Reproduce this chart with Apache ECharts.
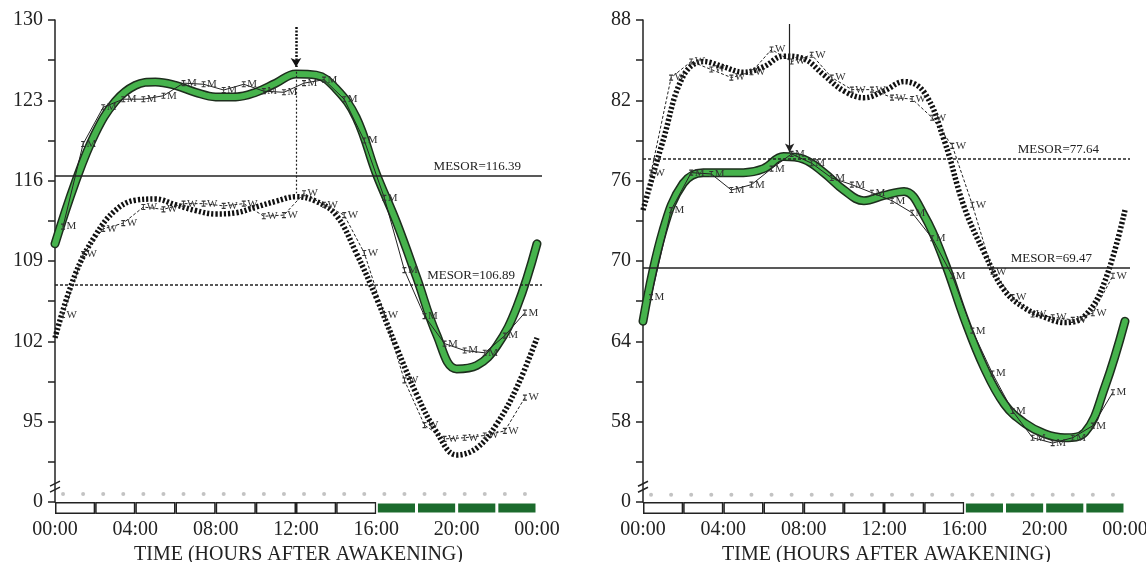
<!DOCTYPE html>
<html>
<head>
<meta charset="utf-8">
<script src="https://cdn.jsdelivr.net/npm/echarts@6.0.0/dist/echarts.min.js"></script>
<style>
  html, body { margin: 0; padding: 0; background: #fff; }
  #chart { width: 1146px; height: 562px; }
</style>
</head>
<body>
<div id="chart"></div>
<script>
// hours for the fitted curves and for the sampled means
const fitHours = [0, 1, 2, 3, 4, 5, 6, 7, 8, 9, 10, 11, 12, 13, 14, 15, 16, 17, 18, 19, 20, 21, 22, 23, 24]
const sampleHours = [0.4, 1.4, 2.4, 3.4, 4.4, 5.4, 6.4, 7.4, 8.4, 9.4, 10.4, 11.4,
  12.4, 13.4, 14.4, 15.4, 16.4, 17.4, 18.4, 19.4, 20.4, 21.4, 22.4, 23.4]

// left panel (M = men, W = women)
const leftMFit = [110.5, 115.8, 120.1, 122.9, 124.3, 124.6, 124.3, 123.7, 123.3, 123.3, 123.7, 124.5, 125.3,
  125.2, 124.0, 121.5, 116.6, 112.4, 107.6, 102.6, 99.6, 99.9, 101.6, 105.0, 110.5]
const leftWFit = [102.3, 107.8, 111.2, 113.4, 114.3, 114.4, 113.9, 113.4, 113.1, 113.2, 113.7, 114.2, 114.6,
  114.2, 113.0, 109.7, 105.8, 101.5, 97.4, 94.1, 92.1, 92.7, 94.8, 98.0, 102.3]
const leftMData = [112.0, 119.2, 122.4, 123.1, 123.1, 123.4, 124.5, 124.4, 123.9, 124.4, 123.8, 123.7,
  124.5, 124.8, 123.1, 119.5, 114.5, 108.2, 104.2, 101.8, 101.2, 101.0, 102.5, 104.5]
const leftWData = [104.3, 109.6, 111.8, 112.3, 113.7, 113.5, 114.0, 114.0, 113.8, 114.0, 112.9, 113.0,
  114.9, 113.9, 113.0, 109.7, 104.3, 98.6, 94.7, 93.5, 93.6, 93.8, 94.2, 97.1]
const leftMesorM = 116.39
const leftMesorW = 106.89
const leftAcrophase = 12.0
const leftYLabels = [88, 95, 102, 109, 116, 123, 130]
const leftYTicks = [88, 91.5, 95, 98.5, 102, 105.5, 109, 112.5, 116, 119.5, 123, 126.5, 130]

// right panel
const rightMFit = [65.5, 72.3, 75.8, 76.6, 76.6, 76.6, 76.9, 77.8, 77.6, 76.6, 75.3, 74.5, 74.9,
  75.2, 73.4, 70.0, 65.7, 62.0, 59.3, 57.9, 57.1, 56.8, 57.2, 60.6, 65.5]
const rightWFit = [73.8, 79.0, 83.8, 84.9, 84.5, 84.1, 84.5, 85.3, 85.1, 83.9, 82.7, 82.2, 82.7,
  83.4, 82.6, 79.0, 74.0, 70.6, 67.8, 66.5, 65.8, 65.4, 65.9, 68.5, 73.8]
const rightMData = [67.3, 73.8, 76.6, 76.5, 75.3, 75.7, 76.9, 78.0, 77.3, 76.2, 75.7, 75.1,
  74.5, 73.6, 71.7, 68.9, 64.8, 61.6, 58.8, 56.8, 56.4, 56.8, 57.7, 60.2]
const rightWData = [76.6, 83.7, 84.9, 84.3, 83.7, 84.1, 85.8, 84.9, 85.4, 83.7, 82.8, 82.8,
  82.2, 82.1, 80.7, 78.6, 74.2, 69.2, 67.3, 66.0, 65.8, 65.6, 66.1, 68.9]
const rightMesorW = 77.64
const rightMesorM = 69.47
const rightAcrophase = 7.3
const rightYLabels = [52, 58, 64, 70, 76, 82, 88]
const rightYTicks = [52, 55, 58, 61, 64, 67, 70, 73, 76, 79, 82, 85, 88]

const xLabels = [0, 4, 8, 12, 16, 20, 24]
// light / dark schedule, one block per 2 hours
const lightDark = ['L', 'L', 'L', 'L', 'L', 'L', 'L', 'L', 'D', 'D', 'D', 'D']

const FONT = 'Liberation Serif'
const GREEN = '#46b34c'
const DARK = '#1c6b2d'

const chart = echarts.init(document.getElementById('chart'))

const pairs = (xs, ys) => xs.map((x, i) => [x, ys[i]])
const hhmm = v => String(v % 24).padStart(2, '0') + ':00'

function xAxisFor (grid) {
  return {
    type: 'value',
    gridIndex: grid,
    min: 0,
    max: 24.25,
    axisLine: { show: false },
    axisTick: { show: false },
    splitLine: { show: false },
    axisLabel: {
      customValues: xLabels,
      formatter: hhmm,
      fontFamily: FONT,
      fontSize: 20,
      color: '#222',
      margin: 18
    },
    name: 'TIME (HOURS AFTER AWAKENING)',
    nameLocation: 'middle',
    nameGap: 35,
    nameTextStyle: { fontFamily: FONT, fontSize: 20, color: '#222' }
  }
}

function yAxisFor (grid, min, max, labels, ticks) {
  return {
    type: 'value',
    gridIndex: grid,
    min: min,
    max: max,
    axisLine: { show: true, lineStyle: { color: '#222', width: 1.5 } },
    axisTick: { show: true, customValues: ticks, length: 7, lineStyle: { color: '#222', width: 1.5 } },
    splitLine: { show: false },
    axisLabel: {
      customValues: labels,
      formatter: v => (v === min ? '0' : String(v)),
      fontFamily: FONT,
      fontSize: 20,
      color: '#222',
      margin: 12
    }
  }
}

function fitSeries (idx, hours, values, kind) {
  if (kind === 'M') {
    return [
      {
        type: 'line', xAxisIndex: idx, yAxisIndex: idx, data: pairs(hours, values), smooth: 0.4,
        symbol: 'none', silent: true, z: 3,
        lineStyle: { color: '#1d2e1d', width: 9, cap: 'round' }
      },
      {
        type: 'line', xAxisIndex: idx, yAxisIndex: idx, data: pairs(hours, values), smooth: 0.4,
        symbol: 'none', silent: true, z: 4,
        lineStyle: { color: GREEN, width: 6, cap: 'round' }
      }
    ]
  }
  return [{
    type: 'line', xAxisIndex: idx, yAxisIndex: idx, data: pairs(hours, values), smooth: 0.4,
    symbol: 'none', silent: true, z: 3,
    lineStyle: { color: '#111', width: 5.5, type: [2.2, 2] }
  }]
}

function dataSeries (idx, values, letter) {
  return {
    type: 'line', xAxisIndex: idx, yAxisIndex: idx, data: pairs(sampleHours, values),
    symbol: 'path://M0,0H6M3,0V8M0,8H6', symbolSize: [4, 5], z: 6,
    itemStyle: { color: '#333', borderColor: '#333', borderWidth: 1 },
    lineStyle: { color: '#222', width: 1, type: letter === 'W' ? [3, 2] : 'solid' },
    label: {
      show: true, formatter: letter, position: 'right', distance: 1,
      fontFamily: FONT, fontSize: 11, color: '#333'
    }
  }
}

function mesorLine (value, solid, pad) {
  return [
    {
      coord: [0, value],
      lineStyle: { color: '#222', width: 1.5, type: solid ? 'solid' : [3, 2] },
      label: {
        show: true, position: 'insideEndTop', formatter: 'MESOR=' + value.toFixed(2),
        fontFamily: FONT, fontSize: 13, color: '#222', distance: 3, padding: [0, pad, 0, 0]
      }
    },
    { coord: [24.25, value] }
  ]
}

function markerSeries (idx, lines) {
  return {
    type: 'line', xAxisIndex: idx, yAxisIndex: idx, data: [], z: 5,
    markLine: { silent: true, symbol: ['none', 'none'], animation: false, data: lines }
  }
}

function dotSeries (idx, level) {
  return {
    type: 'scatter', xAxisIndex: idx, yAxisIndex: idx, silent: true,
    data: sampleHours.map(h => [h, level]), symbolSize: 4,
    itemStyle: { color: '#b4b4b4' }
  }
}

function scheduleSeries (idx) {
  return {
    type: 'bar', xAxisIndex: idx, yAxisIndex: idx, silent: true, barWidth: '100%',
    data: lightDark.map(b => ({
      value: 1,
      itemStyle: b === 'L'
        ? { color: '#fff', borderColor: '#222', borderWidth: 1.5 }
        : { color: DARK, borderColor: '#fff', borderWidth: 1.5 }
    }))
  }
}

const option = {
  backgroundColor: '#fff',
  animation: false,
  grid: [
    { left: 55, right: 604, top: 20, bottom: 60, outerBoundsMode: 'none' },
    { left: 643, right: 16, top: 20, bottom: 60, outerBoundsMode: 'none' },
    { left: 55, right: 609, top: 502, height: 12, outerBoundsMode: 'none' },
    { left: 643, right: 21, top: 502, height: 12, outerBoundsMode: 'none' }
  ],
  xAxis: [
    xAxisFor(0),
    xAxisFor(1),
    { type: 'category', gridIndex: 2, data: lightDark.map((b, i) => i), show: false },
    { type: 'category', gridIndex: 3, data: lightDark.map((b, i) => i), show: false }
  ],
  yAxis: [
    yAxisFor(0, 88, 130, leftYLabels, leftYTicks),
    yAxisFor(1, 52, 88, rightYLabels, rightYTicks),
    { type: 'value', gridIndex: 2, min: 0, max: 1, show: false },
    { type: 'value', gridIndex: 3, min: 0, max: 1, show: false }
  ],
  series: [
    ...fitSeries(0, fitHours, leftWFit, 'W'),
    ...fitSeries(0, fitHours, leftMFit, 'M'),
    dataSeries(0, leftMData, 'M'),
    dataSeries(0, leftWData, 'W'),
    markerSeries(0, [
      mesorLine(leftMesorM, true, 18),
      mesorLine(leftMesorW, false, 24),
      [
        { coord: [leftAcrophase, 129.4], symbol: 'none', lineStyle: { color: '#111', width: 2.5, type: [2, 1.5] } },
        { coord: [leftAcrophase, 125.9], symbol: 'arrow', symbolSize: [8, 9] }
      ],
      [
        { coord: [leftAcrophase, 125.5], lineStyle: { color: '#222', width: 1.2, type: [2, 2] } },
        { coord: [leftAcrophase, 114.9] }
      ]
    ]),
    dotSeries(0, 88.7),

    ...fitSeries(1, fitHours, rightWFit, 'W'),
    ...fitSeries(1, fitHours, rightMFit, 'M'),
    dataSeries(1, rightMData, 'M'),
    dataSeries(1, rightWData, 'W'),
    markerSeries(1, [
      mesorLine(rightMesorW, false, 28),
      mesorLine(rightMesorM, true, 35),
      [
        { coord: [rightAcrophase, 87.7], symbol: 'none', lineStyle: { color: '#222', width: 1.2, type: 'solid' } },
        { coord: [rightAcrophase, 78.1], symbol: 'arrow', symbolSize: [7, 9] }
      ]
    ]),
    dotSeries(1, 52.55),

    scheduleSeries(2),
    scheduleSeries(3)
  ]
}

chart.setOption(option)

// axis break marks near the bottom of each value axis
function breakMark (grid, value) {
  const p = chart.convertToPixel({ gridIndex: grid }, [0, value])
  const x = p[0]
  const y = p[1]
  return {
    type: 'group',
    children: [
      { type: 'rect', shape: { x: x - 3, y: y - 3, width: 6, height: 7 }, style: { fill: '#fff' } },
      { type: 'line', shape: { x1: x - 5, y1: y - 1, x2: x + 5, y2: y - 6 }, style: { stroke: '#222', lineWidth: 1.5 } },
      { type: 'line', shape: { x1: x - 5, y1: y + 5, x2: x + 5, y2: y }, style: { stroke: '#222', lineWidth: 1.5 } }
    ]
  }
}

chart.setOption({
  graphic: [breakMark(0, 89.3), breakMark(1, 53.1)]
})
</script>
</body>
</html>
